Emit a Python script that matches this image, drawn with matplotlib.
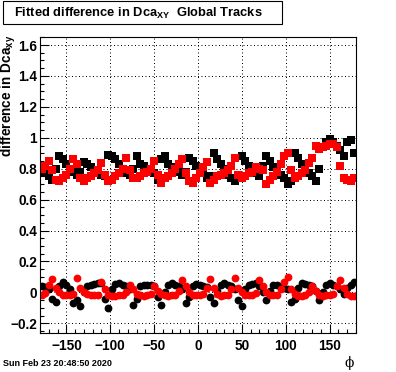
import matplotlib
matplotlib.use("Agg")
import matplotlib.pyplot as plt
from matplotlib.patches import Rectangle
import numpy as np

plt.rcParams["font.family"] = ["Liberation Sans", "DejaVu Sans"]
plt.rcParams["mathtext.fontset"] = "custom"
plt.rcParams["mathtext.rm"] = "Liberation Sans:bold"

# phi bin centres (4 degree bins)
phi = np.arange(-178, 180, 4)

# upper band: fitted mean (squares)
black_upper = [0.78, 0.77, 0.75, 0.73, 0.80, 0.88, 0.86, 0.83, 0.80, 0.78,
               0.76, 0.78, 0.845, 0.83, 0.81, 0.79, 0.78, 0.76, 0.75, 0.89,
               0.88, 0.86, 0.83, 0.79, 0.77, 0.76, 0.80, 0.88, 0.83, 0.82,
               0.80, 0.79, 0.77, 0.73, 0.86, 0.88, 0.83, 0.81, 0.79, 0.78,
               0.76, 0.78, 0.87, 0.85, 0.82, 0.80, 0.78, 0.74, 0.75, 0.90,
               0.86, 0.83, 0.80, 0.76, 0.74, 0.72, 0.76, 0.88, 0.85, 0.82,
               0.80, 0.77, 0.75, 0.82, 0.88, 0.85, 0.81, 0.79, 0.76, 0.74,
               0.70, 0.72, 0.90, 0.87, 0.83, 0.81, 0.77, 0.75, 0.72, 0.80,
               0.94, 0.975, 0.99, 0.97, 0.95, 0.92, 0.88, 0.97, 0.985, 0.90]
red_upper = [0.80, 0.82, 0.85, 0.79, 0.73, 0.72, 0.74, 0.76, 0.80, 0.86,
             0.83, 0.74, 0.72, 0.74, 0.75, 0.77, 0.79, 0.84, 0.76, 0.72,
             0.73, 0.75, 0.77, 0.80, 0.87, 0.79, 0.74, 0.74, 0.75, 0.77,
             0.78, 0.80, 0.85, 0.76, 0.71, 0.74, 0.75, 0.77, 0.80, 0.83,
             0.86, 0.77, 0.72, 0.71, 0.74, 0.77, 0.81, 0.845, 0.71, 0.73,
             0.75, 0.76, 0.77, 0.79, 0.82, 0.87, 0.76, 0.74, 0.75, 0.77,
             0.78, 0.81, 0.80, 0.79, 0.70, 0.73, 0.75, 0.78, 0.83, 0.88,
             0.90, 0.79, 0.74, 0.75, 0.77, 0.79, 0.84, 0.87, 0.95, 0.93,
             0.94, 0.95, 0.96, 0.96, 0.94, 0.82, 0.74, 0.73, 0.72, 0.74]

# lower band: fitted difference around zero (circles)
black_lower = [0.04, 0.035, 0.02, -0.04, -0.06, 0.04, 0.07, 0.05, 0.02, -0.07,
               -0.05, -0.09, 0.0, 0.04, 0.05, 0.055, 0.06, 0.06, -0.04, -0.10,
               0.02, 0.055, 0.06, 0.05, 0.04, 0.02, -0.08, -0.04, 0.04, 0.05,
               0.05, 0.045, 0.04, -0.03, -0.085, 0.0, 0.05, 0.06, 0.05, 0.04,
               0.02, -0.07, -0.03, 0.04, 0.055, 0.05, 0.04, 0.035, -0.03, -0.07,
               0.01, 0.05, 0.06, 0.045, 0.04, 0.02, -0.05, -0.09, 0.02, 0.05,
               0.055, 0.06, 0.04, 0.0, -0.05, 0.01, 0.05, 0.045, 0.04, 0.03,
               0.02, -0.06, -0.04, 0.03, 0.06, 0.055, 0.05, 0.04, 0.01, -0.05,
               0.0, 0.05, 0.06, 0.05, 0.04, 0.02, -0.01, 0.03, 0.05, 0.07]
red_lower = [-0.015, -0.005, 0.05, 0.087, 0.03, 0.0, -0.015, -0.02, -0.02, -0.01,
             0.095, 0.03, 0.005, -0.01, -0.015, -0.02, -0.015, 0.07, 0.02, -0.02,
             -0.025, -0.025, -0.02, -0.015, 0.0, 0.05, 0.02, -0.01, -0.02, -0.025,
             -0.02, -0.01, 0.04, 0.01, -0.01, -0.02, -0.025, -0.02, -0.015, 0.01,
             0.08, 0.04, 0.0, -0.015, -0.02, -0.02, -0.01, 0.03, 0.087, 0.03,
             -0.01, -0.025, -0.02, -0.015, 0.02, 0.095, 0.03, 0.0, -0.015, -0.02,
             -0.015, -0.005, 0.08, 0.04, 0.0, -0.02, -0.02, -0.015, 0.02, 0.07,
             0.10, 0.02, -0.01, -0.025, -0.025, -0.02, 0.0, 0.04, 0.01, -0.015,
             -0.025, -0.02, -0.02, -0.01, 0.04, 0.08, 0.03, -0.01, -0.025, -0.025]

fig = plt.figure(figsize=(3.96, 3.72), dpi=100)
ax = fig.add_axes([40 / 396, 39 / 372, 316 / 396, 296 / 372])

ax.plot(phi, black_upper, "s", color="black", ms=5.2, mew=0)
ax.plot(phi, red_upper, "s", color="red", ms=5.2, mew=0)
ax.plot(phi, black_lower, "o", color="black", ms=5.6, mew=0)
ax.plot(phi, red_lower, "o", color="red", ms=5.6, mew=0)

ax.set_xlim(-180, 180)
ax.set_ylim(-0.263, 1.652)
ax.set_xticks([-150, -100, -50, 0, 50, 100, 150])
ax.set_xticks(np.arange(-180, 181, 10), minor=True)
ax.set_yticks([-0.2, 0, 0.2, 0.4, 0.6, 0.8, 1.0, 1.2, 1.4, 1.6])
ax.set_yticklabels(["\u22120.2", "0", "0.2", "0.4", "0.6", "0.8", "1", "1.2", "1.4", "1.6"])
ax.set_yticks(np.arange(-0.25, 1.66, 0.05), minor=True)
ax.set_xticklabels(["\u2212150", "\u2212100", "\u221250", "0", "50", "100", "150"])

ax.tick_params(which="both", direction="in", top=False, right=False,
               labelsize=9.8, width=0.8)
ax.tick_params(which="major", length=6.5)
ax.tick_params(which="minor", length=3.2)
ax.tick_params(axis="x", pad=4)
ax.tick_params(axis="y", pad=2)
for lab in ax.get_xticklabels() + ax.get_yticklabels():
    lab.set_fontweight("bold")
for sp in ax.spines.values():
    sp.set_linewidth(0.8)

ax.grid(True, which="major", color="black", linewidth=0.72, linestyle=(0, (1, 2.5)))
ax.set_axisbelow(True)

ax.set_ylabel(r"difference in Dca$_{\mathrm{xy}}$", fontsize=9.8, fontweight="bold",
              loc="top")
ax.yaxis.set_label_coords(-0.07, 1.01)

# title box
fig.patches.append(Rectangle((3 / 396, 1 - 24 / 372), 279 / 396, 23 / 372,
                             transform=fig.transFigure, facecolor="white",
                             edgecolor="black", linewidth=0.8))
fig.text(14 / 396, 1 - 13 / 372, r"Fitted difference in Dca$_{\mathrm{XY}}$  Global Tracks",
         fontsize=9.3, fontweight="bold", ha="left", va="center")

fig.text(354 / 396, 1 - 363 / 372, "\u03d5", family=["DejaVu Serif"], fontsize=10,
         ha="right", va="center")
fig.text(3 / 396, 1 - 363 / 372, "Sun Feb 23 20:48:50 2020", fontsize=6.5,
         fontweight="bold", ha="left", va="center")

fig.savefig("out.png", dpi=100)
